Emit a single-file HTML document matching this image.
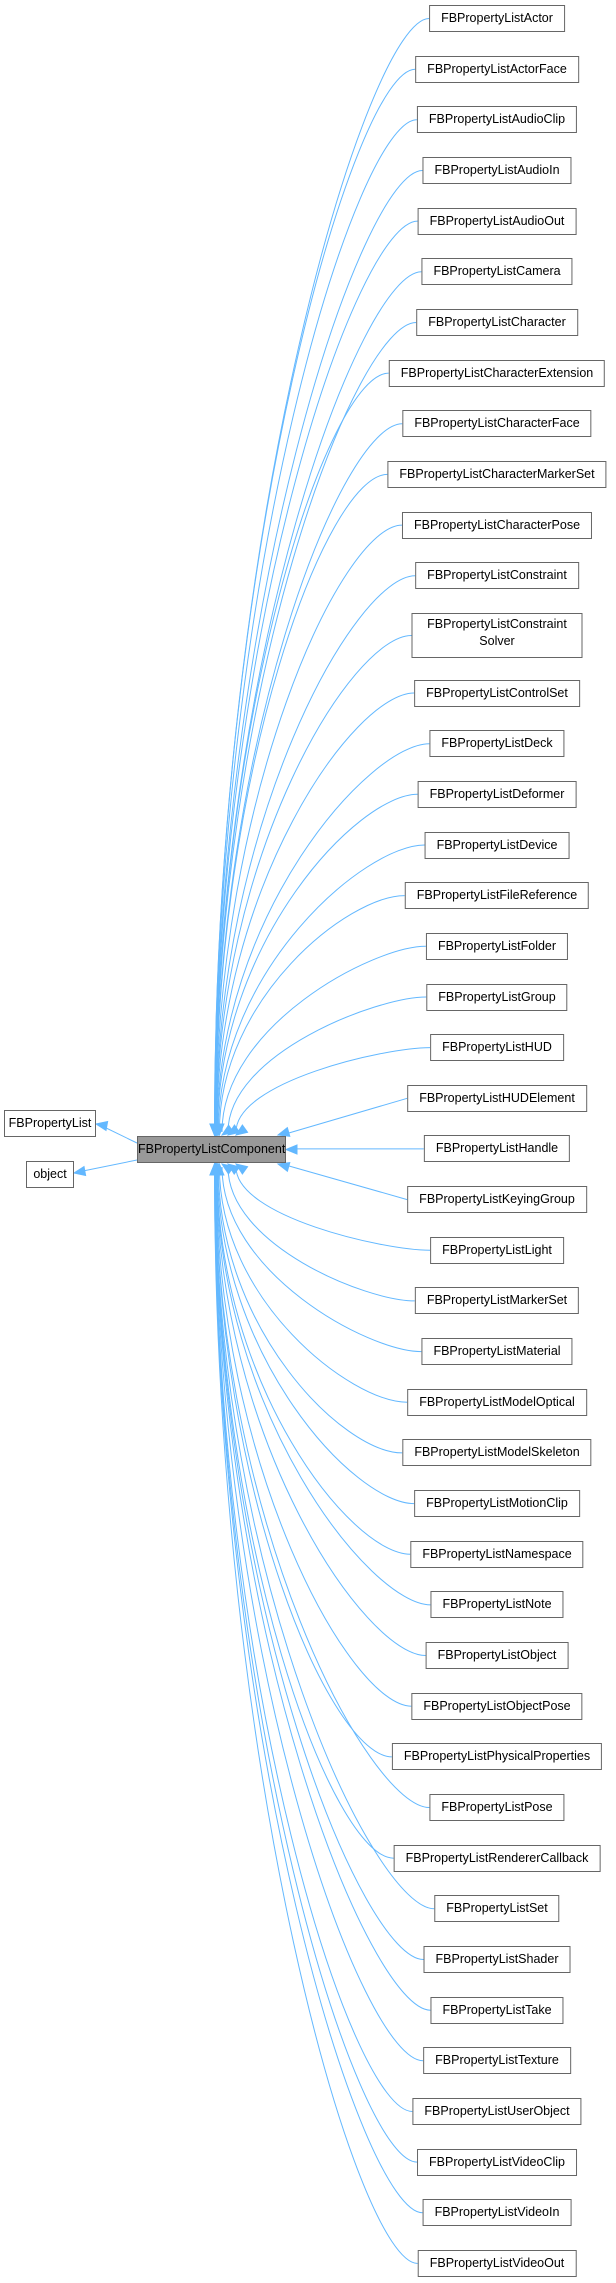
<!DOCTYPE html>
<html><head><meta charset="utf-8"><style>
body{margin:0;width:616px;height:2283px;background:#fff;position:relative;overflow:hidden;font-family:"Liberation Sans",sans-serif;font-size:12.5px;}
.b{position:absolute;height:25px;line-height:25px;border:1px solid #666;background:#fff;color:#000;white-space:nowrap;text-align:center;box-sizing:content-box;}
.n{left:497px;transform:translateX(-50%);padding:0 11px;}
svg{position:absolute;left:0;top:0;}
</style></head><body>
<svg id="s" width="616" height="2283"></svg>
<div class="b" style="left:4px;top:1110px;width:90px">FBPropertyList</div>
<div class="b" style="left:26px;top:1161px;width:46px">object</div>
<div class="b" id="c" style="left:137px;top:1136px;width:147px;background:#999">FBPropertyListComponent</div>
<div class="b n" style="top:5px">FBPropertyListActor</div>
<div class="b n" style="top:55.7px">FBPropertyListActorFace</div>
<div class="b n" style="top:106.3px">FBPropertyListAudioClip</div>
<div class="b n" style="top:157px">FBPropertyListAudioIn</div>
<div class="b n" style="top:207.6px">FBPropertyListAudioOut</div>
<div class="b n" style="top:258.3px">FBPropertyListCamera</div>
<div class="b n" style="top:309px">FBPropertyListCharacter</div>
<div class="b n" style="top:359.6px">FBPropertyListCharacterExtension</div>
<div class="b n" style="top:410.3px">FBPropertyListCharacterFace</div>
<div class="b n" style="top:460.9px">FBPropertyListCharacterMarkerSet</div>
<div class="b n" style="top:511.6px">FBPropertyListCharacterPose</div>
<div class="b n" style="top:562.3px">FBPropertyListConstraint</div>
<div class="b n" style="top:613px;height:41px;line-height:17px;padding-top:2px;width:147px">FBPropertyListConstraint<br>Solver</div>
<div class="b n" style="top:679.5px">FBPropertyListControlSet</div>
<div class="b n" style="top:730.2px">FBPropertyListDeck</div>
<div class="b n" style="top:780.8px">FBPropertyListDeformer</div>
<div class="b n" style="top:831.5px">FBPropertyListDevice</div>
<div class="b n" style="top:882.1px">FBPropertyListFileReference</div>
<div class="b n" style="top:932.8px">FBPropertyListFolder</div>
<div class="b n" style="top:983.5px">FBPropertyListGroup</div>
<div class="b n" style="top:1034.1px">FBPropertyListHUD</div>
<div class="b n" style="top:1084.8px">FBPropertyListHUDElement</div>
<div class="b n" style="top:1135.4px">FBPropertyListHandle</div>
<div class="b n" style="top:1186.1px">FBPropertyListKeyingGroup</div>
<div class="b n" style="top:1236.8px">FBPropertyListLight</div>
<div class="b n" style="top:1287.4px">FBPropertyListMarkerSet</div>
<div class="b n" style="top:1338.1px">FBPropertyListMaterial</div>
<div class="b n" style="top:1388.7px">FBPropertyListModelOptical</div>
<div class="b n" style="top:1439.4px">FBPropertyListModelSkeleton</div>
<div class="b n" style="top:1490.1px">FBPropertyListMotionClip</div>
<div class="b n" style="top:1540.7px">FBPropertyListNamespace</div>
<div class="b n" style="top:1591.4px">FBPropertyListNote</div>
<div class="b n" style="top:1642px">FBPropertyListObject</div>
<div class="b n" style="top:1692.7px">FBPropertyListObjectPose</div>
<div class="b n" style="top:1743.4px">FBPropertyListPhysicalProperties</div>
<div class="b n" style="top:1794px">FBPropertyListPose</div>
<div class="b n" style="top:1844.7px">FBPropertyListRendererCallback</div>
<div class="b n" style="top:1895.3px">FBPropertyListSet</div>
<div class="b n" style="top:1946px">FBPropertyListShader</div>
<div class="b n" style="top:1996.7px">FBPropertyListTake</div>
<div class="b n" style="top:2047.3px">FBPropertyListTexture</div>
<div class="b n" style="top:2098px">FBPropertyListUserObject</div>
<div class="b n" style="top:2148.6px">FBPropertyListVideoClip</div>
<div class="b n" style="top:2199.3px">FBPropertyListVideoIn</div>
<div class="b n" style="top:2250px">FBPropertyListVideoOut</div>
<script>
var s=document.getElementById('s'),C='#63b8ff',out='';
function arrow(tx,ty,fx,fy){var dx=fx-tx,dy=fy-ty,l=Math.hypot(dx,dy);dx/=l;dy/=l;var L=11,W=4.5;
var bx=tx+dx*L,by=ty+dy*L;return '<polygon points="'+tx+','+ty+' '+(bx-dy*W)+','+(by+dx*W)+' '+(bx+dy*W)+','+(by-dx*W)+'" fill="'+C+'" stroke="'+C+'"/>';}
var ns=document.querySelectorAll('.n');
ns.forEach(function(e,i){var r=e.getBoundingClientRect();var x=r.left,y=(r.top+r.bottom)/2;
 if(i==22){out+='<path d="M'+x+','+y+'L290,'+y+'" stroke="'+C+'" fill="none"/>'+arrow(286,1149.5,297,1149.5);return;}
 var d=Math.abs(i-22),up=i<22;var ex=d==1?278:d==2?236:d==3?228:d==4?222:213+Math.min(8,32/d);
 var ey=up?1135:1164;var sy=up?ey-11:ey+11;
 if(d==1){out+='<path d="M'+x+','+y+'L'+(ex+4)+','+ey+'" stroke="'+C+'" fill="none"/>'+arrow(ex,ey,x,y);return;}
 var k=Math.min(1,d/6);
 out+='<path d="M'+x+','+y+' C'+(x-40-20*k)+','+y+' '+ex+','+(y+(sy-y)*0.45)+' '+ex+','+(ey+(up?-3:3))+'" stroke="'+C+'" fill="none"/>'+arrow(ex,ey,ex+(d<5?(x-ex)*0.08:0),sy);
});
out+='<path d="M137,1143 L100,1125" stroke="'+C+'" fill="none"/>'+arrow(96,1124,107,1126);
out+='<path d="M137,1160 L78,1172" stroke="'+C+'" fill="none"/>'+arrow(74,1173,85,1171);
s.innerHTML=out;
</script>
</body></html>
